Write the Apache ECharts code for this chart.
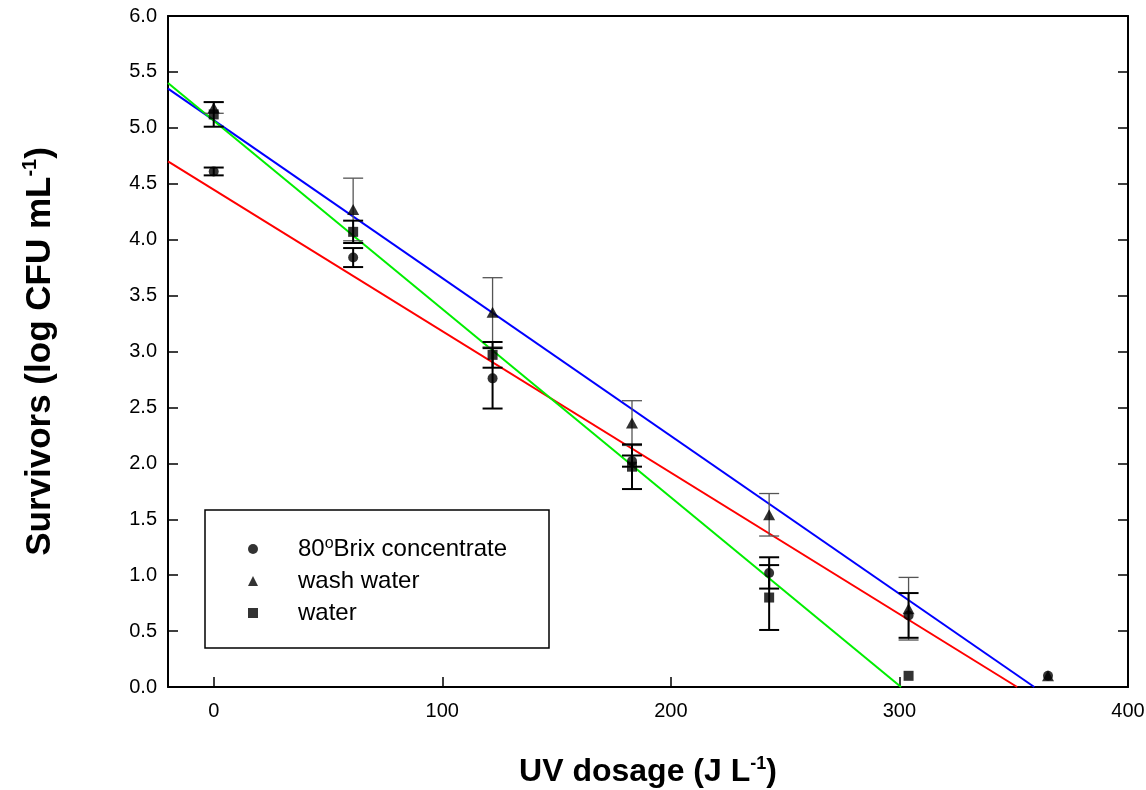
<!DOCTYPE html>
<html>
<head>
<meta charset="utf-8">
<script src="https://cdn.jsdelivr.net/npm/echarts@6/dist/echarts.min.js"></script>
<style>
	html, body { margin: 0; padding: 0; background: #fff; }
	#chart { width: 1146px; height: 790px; }
</style>
</head>
<body>
<div id="chart"></div>
<script>
	var FONT = "'Liberation Sans', Arial, Helvetica, sans-serif";

	// UV dose of each sampling step (J/L)
	var doses = [0, 61, 122, 183, 243, 304, 365];

	// 80 Brix concentrate (circles)
	var brixMean = [4.61, 3.84, 2.76, 2.02, 1.02, 0.64, 0.10];
	var brixErr  = [0.035, 0.085, 0.27, 0.05, 0.14, 0.20, 0];

	// wash water (triangles)
	var washMean = [5.18, 4.27, 3.35, 2.36, 1.54, 0.70, 0.10];
	var washErr  = [0.05, 0.28, 0.31, 0.20, 0.19, 0.28, 0];

	// water (squares), no point at the last dose
	var waterMean = [5.12, 4.07, 2.97, 1.97, 0.80, 0.10];
	var waterErr  = [0.11, 0.10, 0.115, 0.20, 0.29, 0];

	// regression lines, start at the left edge and end where they reach 0
	var brixFit  = [[-20, 4.70], [351.5, 0]];
	var washFit  = [[-20, 5.35], [359, 0]];
	var waterFit = [[-20, 5.40], [300.7, 0]];

	var xTicks = [0, 100, 200, 300, 400];

	var NAME_BRIX  = '80°Brix concentrate';
	var NAME_WASH  = 'wash water';
	var NAME_WATER = 'water';

	function points(mean) {
		var out = [];
		for (var i = 0; i < mean.length; i++) out.push([doses[i], mean[i]]);
		return out;
	}

	function bars(mean, err) {
		var out = [];
		for (var i = 0; i < mean.length; i++) {
			if (!err[i]) continue;
			out.push([doses[i], mean[i] - err[i], mean[i] + err[i]]);
		}
		return out;
	}

	function errorSeries(data, color, width) {
		return {
			type: 'custom',
			silent: true,
			z: 3,
			data: data,
			encode: { x: 0, y: [1, 2] },
			renderItem: function (params, api) {
				var x  = api.value(0);
				var lo = api.coord([x, api.value(1)]);
				var hi = api.coord([x, api.value(2)]);
				var cap = 10;
				var st = { stroke: color, lineWidth: width };
				return {
					type: 'group',
					children: [
						{ type: 'line', shape: { x1: hi[0], y1: hi[1], x2: lo[0], y2: lo[1] }, style: st },
						{ type: 'line', shape: { x1: hi[0] - cap, y1: hi[1], x2: hi[0] + cap, y2: hi[1] }, style: st },
						{ type: 'line', shape: { x1: lo[0] - cap, y1: lo[1], x2: lo[0] + cap, y2: lo[1] }, style: st }
					]
				};
			}
		};
	}

	function fitSeries(data, color) {
		return {
			type: 'line', data: data, symbol: 'none', silent: true, z: 2,
			lineStyle: { color: color, width: 2 }
		};
	}

	function scatterSeries(name, data, symbol, size) {
		return {
			name: name, type: 'scatter', data: data, z: 5,
			symbol: symbol, symbolSize: size,
			itemStyle: { color: '#000' }
		};
	}

	var chart = echarts.init(document.getElementById('chart'));

	var frameLine = { show: true, onZero: false, lineStyle: { color: '#000', width: 2 } };

	chart.setOption({
		animation: false,
		backgroundColor: '#fff',
		textStyle: { fontFamily: FONT },
		grid: { left: 168, right: 18, top: 16, bottom: 103, outerBoundsMode: 'none' },
		xAxis: [
			{
				type: 'value', min: -20, max: 400,
				name: 'UV dosage (J L{sup|-1})',
				nameLocation: 'middle', nameGap: 68,
				nameTextStyle: {
					fontFamily: FONT, fontSize: 32, fontWeight: 'bold', color: '#000', lineHeight: 34,
					rich: { sup: { fontFamily: FONT, fontSize: 18, fontWeight: 'bold', color: '#000', verticalAlign: 'top', lineHeight: 18 } }
				},
				axisLine: frameLine,
				axisTick: { inside: true, length: 10, customValues: xTicks, lineStyle: { color: '#000', width: 1.5 } },
				axisLabel: { customValues: xTicks, margin: 14, fontSize: 20, color: '#000', fontFamily: FONT },
				splitLine: { show: false }
			},
			{
				type: 'value', min: -20, max: 400, position: 'top',
				axisLine: frameLine,
				axisTick: { show: false }, axisLabel: { show: false }, splitLine: { show: false }
			}
		],
		yAxis: [
			{
				type: 'value', min: 0, max: 6, interval: 0.5,
				name: 'Survivors (log CFU mL{sup|-1})',
				nameLocation: 'middle', nameGap: 108,
				nameTextStyle: {
					fontFamily: FONT, fontSize: 35, fontWeight: 'bold', color: '#000', lineHeight: 40,
					rich: { sup: { fontFamily: FONT, fontSize: 20, fontWeight: 'bold', color: '#000', verticalAlign: 'top', lineHeight: 20 } }
				},
				axisLine: frameLine,
				axisTick: { show: true, inside: true, length: 10, lineStyle: { color: '#000', width: 1.5 } },
				axisLabel: {
					margin: 11, fontSize: 20, color: '#000', fontFamily: FONT,
					formatter: function (v) { return v.toFixed(1); }
				},
				splitLine: { show: false }
			},
			{
				type: 'value', min: 0, max: 6, interval: 0.5, position: 'right',
				axisLine: frameLine,
				axisTick: { show: true, inside: true, length: 10, lineStyle: { color: '#000', width: 1.5 } },
				axisLabel: { show: false }, splitLine: { show: false }
			}
		],
		legend: {
			orient: 'vertical', left: 248, top: 536, padding: 0,
			itemGap: 6, itemWidth: 10, itemHeight: 10,
			data: [
				{ name: NAME_BRIX, icon: 'circle' },
				{ name: NAME_WASH, icon: 'triangle' },
				{ name: NAME_WATER, icon: 'rect' }
			],
			formatter: function (name) {
				return name === NAME_BRIX ? '80{sup|o}Brix concentrate' : name;
			},
			textStyle: {
				fontFamily: FONT, fontSize: 24, color: '#000', lineHeight: 26, padding: [0, 0, 0, 35],
				rich: { sup: { fontFamily: FONT, fontSize: 16, color: '#000', verticalAlign: 'top', lineHeight: 10 } }
			},
			selectedMode: false
		},
		graphic: [
			{
				type: 'rect', silent: true, z: 100,
				shape: { x: 205, y: 510, width: 344, height: 138 },
				style: { fill: 'none', stroke: '#000', lineWidth: 1.5 }
			}
		],
		series: [
			fitSeries(brixFit, '#ff0000'),
			fitSeries(washFit, '#0000ff'),
			fitSeries(waterFit, '#00ee00'),
			errorSeries(bars(washMean, washErr), '#555', 1.3),
			errorSeries(bars(brixMean, brixErr), '#000', 2),
			errorSeries(bars(waterMean, waterErr), '#000', 2),
			scatterSeries(NAME_BRIX, points(brixMean), 'circle', 10),
			scatterSeries(NAME_WASH, points(washMean), 'triangle', [12, 11]),
			scatterSeries(NAME_WATER, points(waterMean), 'rect', 10)
		]
	});
</script>
</body>
</html>
